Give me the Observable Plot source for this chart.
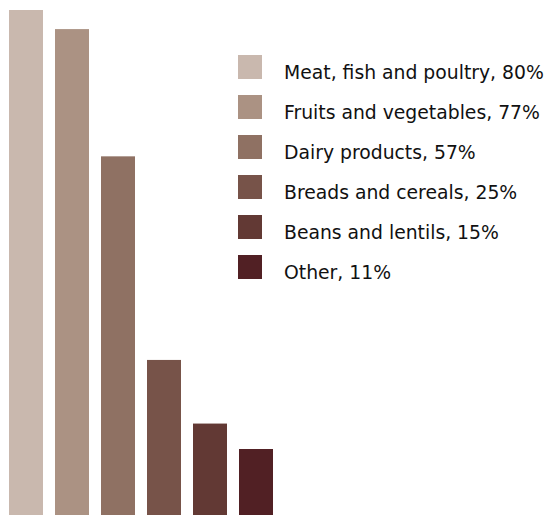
<!DOCTYPE html>
<html>
<head>
<meta charset="utf-8">
<script src="https://cdn.jsdelivr.net/npm/d3@7"></script>
<script src="https://cdn.jsdelivr.net/npm/@observablehq/plot@0.6"></script>
<style>
  html, body { margin: 0; padding: 0; background: #fff; overflow: hidden; }
  #wrap { position: relative; width: 549px; height: 515px; overflow: hidden; }
  #legend { position: absolute; left: 238px; top: 55px; font-family: "DejaVu Sans", sans-serif; font-size: 18.8px; color: #111; }
  .row { display: flex; align-items: flex-start; height: 40px; }
  .sw { width: 24px; height: 24px; flex: none; }
  .lab { margin-left: 22px; line-height: 24px; position: relative; top: 5.5px; white-space: nowrap; }
</style>
</head>
<body>
<div id="wrap"><div id="chart"></div><div id="legend"></div></div>
<script>
const categories = ["Meat, fish and poultry", "Fruits and vegetables", "Dairy products", "Breads and cereals", "Beans and lentils", "Other"];
const values = [80, 77, 57, 25, 15, 11];
const colors = ["#c9b8ae", "#ab9283", "#8f7163", "#775349", "#623934", "#512024"];

const data = categories.map((c, i) => ({category: c, value: values[i]}));

const chart = Plot.plot({
  width: 549,
  height: 519,
  marginLeft: 8,
  marginRight: 276,
  marginTop: 10,
  marginBottom: 0,
  x: {domain: categories, paddingInner: 0.264, paddingOuter: 0, axis: null},
  y: {domain: [0, 80], axis: null},
  color: {domain: categories, range: colors},
  marks: [
    Plot.barY(data, {x: "category", y: "value", fill: "category"})
  ]
});
document.getElementById("chart").appendChild(chart);

const legend = document.getElementById("legend");
categories.forEach((c, i) => {
  const row = document.createElement("div");
  row.className = "row";
  const sw = document.createElement("div");
  sw.className = "sw";
  sw.style.background = colors[i];
  const lab = document.createElement("div");
  lab.className = "lab";
  lab.textContent = `${c}, ${values[i]}%`;
  row.appendChild(sw);
  row.appendChild(lab);
  legend.appendChild(row);
});
</script>
</body>
</html>
